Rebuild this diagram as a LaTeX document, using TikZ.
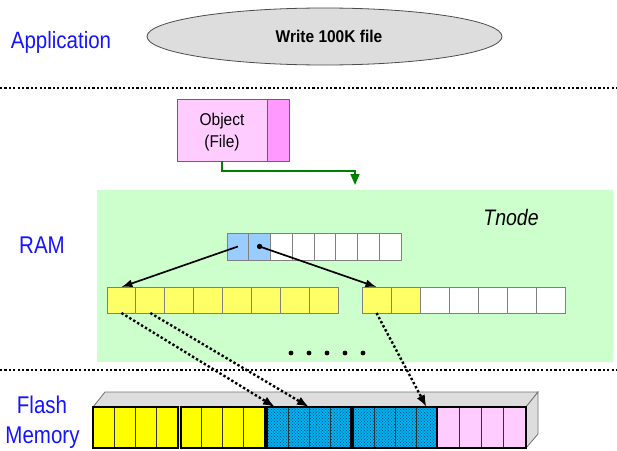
\documentclass[tikz,border=0pt]{standalone}
\usepackage{fontspec}
\setmainfont{Liberation Sans}
\usetikzlibrary{shapes.geometric,arrows.meta,patterns,calc}

\definecolor{labelblue}{RGB}{20,20,255}
\definecolor{appgray}{RGB}{221,221,221}
\definecolor{ramgreen}{RGB}{204,255,204}
\definecolor{linkgreen}{RGB}{0,128,0}
\definecolor{objpink}{RGB}{255,204,255}
\definecolor{objmag}{RGB}{255,153,255}
\definecolor{tblue}{RGB}{153,204,255}
\definecolor{ryellow}{RGB}{255,255,102}
\definecolor{cellgray}{RGB}{128,128,128}
\definecolor{fyellow}{RGB}{255,255,0}
\definecolor{fcyan}{RGB}{0,176,240}
\definecolor{fdot}{RGB}{0,70,110}
\definecolor{fpink}{RGB}{255,204,255}
\definecolor{boxgray}{RGB}{221,221,221}

\begin{document}
\begin{tikzpicture}[x=1pt,y=-1pt,
  lbl/.style={text=labelblue, font=\fontsize{20.5}{24}\selectfont, anchor=base, inner sep=0pt},
  sep/.style={line width=2.2pt, dash pattern=on 2.2pt off 2.2pt},
  tcell/.style={draw=cellgray, line width=0.9pt, minimum width=21.75pt, minimum height=27pt, inner sep=0pt, outer sep=0pt},
  rcell/.style={draw=cellgray, line width=0.9pt, minimum width=28.9pt, minimum height=26pt, inner sep=0pt, outer sep=0pt},
  fcell/.style={draw=black!80, line width=0.9pt, minimum height=41pt, inner sep=0pt, outer sep=0pt},
  yfill/.style={fill=fyellow},
  cfill/.style={fill=fcyan, postaction={pattern=crosshatch dots, pattern color=fdot}},
  pfill/.style={fill=fpink},
  ptr/.style={line width=1.7pt, -{Latex[length=11pt,width=8pt]}},
  flashptr/.style={line width=2.4pt, dash pattern=on 2.4pt off 2.2pt, -{Latex[length=12pt,width=9pt]}},
]
\useasboundingbox (0,0) rectangle (617,450);

% ---------- application layer ----------
\node[lbl] (applbl) at (61,48.5) {\scalebox{1}[1.15]{Application}};
\node[ellipse, draw=black!70, line width=0.8pt, fill=appgray,
      minimum width=355pt, minimum height=57pt, inner sep=0pt] (app) at (324.5,36.5) {};
\node[font=\bfseries\fontsize{15.5}{18}\selectfont, anchor=base, inner sep=0pt] (apptext) at (329,42)
  {\scalebox{1}[1.1]{Write 100K file}};

\draw[sep] (0,88) -- (617,88);

% ---------- object ----------
\node[draw=black!60, line width=0.8pt, fill=objpink, minimum width=90pt, minimum height=62pt,
      inner sep=0pt, outer sep=0pt, anchor=north west] (objL) at (177,99) {};
\node[draw=black!60, line width=0.8pt, fill=objmag, minimum width=22pt, minimum height=62pt,
      inner sep=0pt, outer sep=0pt, anchor=north west] (objR) at (267,99) {};
\node[font=\fontsize{15.5}{18}\selectfont, anchor=base, inner sep=0pt] (objt1) at (222,125) {\scalebox{1}[1.1]{Object}};
\node[font=\fontsize{15.5}{18}\selectfont, anchor=base, inner sep=0pt] (objt2) at (222,147) {\scalebox{1}[1.1]{(File)}};

% ---------- RAM ----------
\node[fill=ramgreen, minimum width=516pt, minimum height=172pt, inner sep=0pt, outer sep=0pt,
      anchor=north west] (ram) at (97,190) {};
\node[lbl] (ramlbl) at (42,253) {\scalebox{1}[1.18]{RAM}};
\node[font=\itshape\fontsize{19.5}{23}\selectfont, anchor=base, inner sep=0pt] (tnode) at (511,225)
  {\scalebox{1}[1.15]{Tnode}};

\draw[linkgreen, line width=1.6pt, -{Triangle[length=11pt,width=9pt]}]
  (objL.south) -- ++(0,10) -| ([xshift=258pt,yshift=5pt]ram.north west);

% tnode entries
\foreach \i in {1,2}
  \node[tcell, fill=tblue] (t\i) at ({227+21.75*(\i-0.5)},246.5) {};
\foreach \i in {3,...,8}
  \node[tcell, fill=white] (t\i) at ({227+21.75*(\i-0.5)},246.5) {};

% data rows
\foreach \i in {1,...,8}
  \node[rcell, fill=ryellow] (a\i) at ({107+28.9*(\i-0.5)},300) {};
\foreach \i in {1,2}
  \node[rcell, fill=ryellow, minimum width=29pt] (b\i) at ({362+29*(\i-0.5)},300) {};
\foreach \i in {3,...,7}
  \node[rcell, fill=white, minimum width=29pt] (b\i) at ({362+29*(\i-0.5)},300) {};

\draw[ptr] (t1.center) -- (a1.north);
\fill (t2.center) circle (2.7pt);
\draw[ptr] (t2.center) -- (b1.north);

\foreach \k in {0,...,4}
  \fill ({291+18*\k},353) circle (2.4pt);

\draw[sep] (0,370) -- (617,370);

% ---------- flash memory ----------
\node[lbl] (flashlbl) at (42,413) {\scalebox{1}[1.18]{Flash}};
\node[lbl] (memlbl) at (42.5,443) {\scalebox{1}[1.18]{Memory}};

\fill[boxgray, draw=black!55, line width=0.8pt]
  (93,407) -- (105,392) -- (538,392) -- (526,407) -- cycle;
\fill[boxgray, draw=black!55, line width=0.8pt]
  (526,407) -- (538,392) -- (538,434) -- (526,448) -- cycle;
\fill[boxgray] (93,407) rectangle (526,448);

\foreach \b/\x/\w/\c in {1/93/85/yfill, 2/180.5/84.5/yfill, 3/267/84/cfill, 4/353/84/cfill, 5/437/89/pfill}{
  \pgfmathsetmacro{\cw}{\w/4}
  \foreach \j in {1,...,4}
    \node[fcell, \c, minimum width=\cw pt] (f\b\j) at ({\x+\cw*(\j-0.5)},427.5) {};
  \draw[line width=2pt] (f\b1.north west) rectangle (f\b4.south east);
}

\draw[flashptr] (a1.south) -- ([xshift=-2.5pt]f31.north);
\draw[flashptr] (a2.south) -- (f32.north east);
\draw[flashptr] (b1.south) -- (f44.north);
\end{tikzpicture}
\end{document}
